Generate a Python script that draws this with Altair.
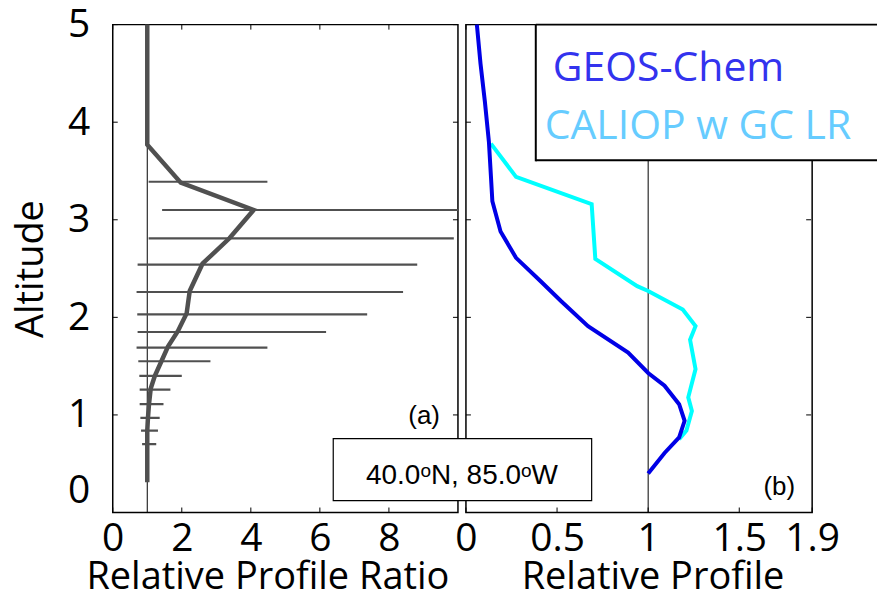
import altair as alt
import pandas as pd

# ---------------- data ----------------
# (a) relative profile ratio (gray line) vs altitude
ratio_alt = [5.0, 3.77, 3.38, 3.10, 2.81, 2.55, 2.27, 2.04, 1.86, 1.70, 1.55, 1.40, 1.27, 1.11, 0.97, 0.84, 0.70, 0.31]
ratio_val = [1.0, 1.0, 1.97, 4.08, 3.38, 2.60, 2.23, 2.14, 1.89, 1.60, 1.41, 1.22, 1.10, 1.05, 1.02, 1.0, 1.0, 1.0]

# (a) horizontal error bars
err_alt = [3.39, 3.10, 2.81, 2.54, 2.26, 2.03, 1.85, 1.69, 1.55, 1.40, 1.26, 1.11, 0.97, 0.84, 0.70]
err_lo = [1.04, 1.43, 1.04, 0.72, 0.69, 0.71, 0.72, 0.69, 0.74, 0.77, 0.78, 0.78, 0.80, 0.82, 0.85]
err_hi = [4.48, 10.6, 9.88, 8.82, 8.41, 7.37, 6.18, 4.48, 2.83, 2.00, 1.67, 1.47, 1.36, 1.31, 1.26]

# (b) GEOS-Chem relative profile
gc_alt = [5.0, 4.6, 4.21, 3.80, 3.45, 3.19, 2.88, 2.61, 2.37, 2.17, 1.91, 1.64, 1.43, 1.30, 1.11, 0.94, 0.77, 0.61, 0.40]
gc_val = [0.06, 0.08, 0.104, 0.126, 0.137, 0.145, 0.19, 0.275, 0.41, 0.52, 0.67, 0.89, 1.0, 1.09, 1.17, 1.2, 1.17, 1.09, 1.0]

# (b) CALIOP w GC LR relative profile
cal_alt = [3.78, 3.44, 3.16, 2.60, 2.32, 2.27, 2.08, 1.91, 1.77, 1.47, 1.18, 1.04, 0.84, 0.75]
cal_val = [0.137, 0.275, 0.69, 0.71, 0.94, 1.0, 1.19, 1.26, 1.23, 1.26, 1.22, 1.24, 1.21, 1.17]

left_xticks = [0, 2, 4, 6, 8]
right_xticks = [0, 0.5, 1, 1.5, 1.9]
yticks = [0, 1, 2, 3, 4, 5]
ref_line = [1.0]

legend_labels = ["GEOS-Chem", "CALIOP w GC LR"]
location_label = ["40.0ᵒN, 85.0ᵒW"]

W, H = 346, 489
TL = 5  # inward tick length
FONT = "Open Sans"

ratio_df = pd.DataFrame({"alt": ratio_alt, "val": ratio_val})
err_df = pd.DataFrame({"alt": err_alt, "lo": err_lo, "hi": err_hi})
gc_df = pd.DataFrame({"alt": gc_alt, "val": gc_val})
cal_df = pd.DataFrame({"alt": cal_alt, "val": cal_val})

# ---------------- scales / axes ----------------
sy = alt.Scale(domain=[0, 5], nice=False, zero=False)
sxL = alt.Scale(domain=[0, 10], nice=False, zero=False)
sxR = alt.Scale(domain=[0, 1.9], nice=False, zero=False)

yaxis = alt.Axis(values=yticks, format="d", labelPadding=23, labelBaseline="middle",
                 labelOffset={"condition": {"test": "datum.value == 0", "value": -22}, "value": 0},
                 title="Altitude", titleX=-70, titleY=H / 2, titleAngle=270,
                 titleBaseline="alphabetic", titleAlign="center")
axL = alt.Axis(values=left_xticks, format="d", labelPadding=38, labelBaseline="alphabetic",
               title="Relative Profile Ratio", titleX=155, titleY=76,
               titleBaseline="alphabetic", titleAlign="center")
axR = alt.Axis(values=right_xticks, format="~g", labelPadding=38, labelBaseline="alphabetic",
               title="Relative Profile", titleX=187, titleY=76,
               titleBaseline="alphabetic", titleAlign="center")


def YL(field):
    return alt.Y(field, type="quantitative", scale=sy, axis=yaxis)


def YR(field):
    return alt.Y(field, type="quantitative", scale=sy, axis=None)


def XL(field):
    return alt.X(field, type="quantitative", scale=sxL, axis=axL)


def XR(field):
    return alt.X(field, type="quantitative", scale=sxR, axis=axR)


def frame_ticks(xvals, X, Y):
    xt = pd.DataFrame({"t": xvals})
    yt = pd.DataFrame({"t": yticks})
    return [
        alt.Chart(xt).mark_rule(color="black", strokeWidth=1).encode(x=X("t"), y=alt.value(H), y2=alt.value(H - TL)),
        alt.Chart(xt).mark_rule(color="black", strokeWidth=1).encode(x=X("t"), y=alt.value(0), y2=alt.value(TL)),
        alt.Chart(yt).mark_rule(color="black", strokeWidth=1).encode(y=Y("t"), x=alt.value(0), x2=alt.value(TL)),
        alt.Chart(yt).mark_rule(color="black", strokeWidth=1).encode(y=Y("t"), x=alt.value(W - TL), x2=alt.value(W)),
    ]


GRAY = "#505050"

# ---------------- left panel ----------------
refL = alt.Chart(pd.DataFrame({"v": ref_line})).mark_rule(color="black", strokeWidth=1).encode(
    x=XL("v"), y=alt.value(0), y2=alt.value(H))
errs = alt.Chart(err_df).mark_rule(color=GRAY, strokeWidth=2.2, clip=True).encode(
    x=XL("lo"), x2="hi:Q", y=YL("alt"))
ratio_line = alt.Chart(ratio_df).mark_line(color=GRAY, strokeWidth=4.5).encode(
    x=XL("val"), y=YL("alt"), order=alt.Order("alt:Q"))
label_a = alt.Chart(pd.DataFrame({"t": ["(a)"]})).mark_text(
    font="Liberation Sans", fontSize=26, align="right", baseline="alphabetic", color="black").encode(
    x=alt.value(328), y=alt.value(400), text="t:N")

left = alt.layer(refL, errs, ratio_line, *frame_ticks(left_xticks, XL, YL), label_a).properties(width=W, height=H)

# ---------------- right panel ----------------
refR = alt.Chart(pd.DataFrame({"v": ref_line})).mark_rule(color="black", strokeWidth=1).encode(
    x=XR("v"), y=alt.value(0), y2=alt.value(H))
cal_line = alt.Chart(cal_df).mark_line(color="#00ffff", strokeWidth=4).encode(
    x=XR("val"), y=YR("alt"), order=alt.Order("alt:Q"))
gc_line = alt.Chart(gc_df).mark_line(color="#0000e6", strokeWidth=4).encode(
    x=XR("val"), y=YR("alt"), order=alt.Order("alt:Q"))

one = pd.DataFrame({"k": [0]})
LB_X0, LB_X1, LB_Y1 = 70, 412, 136
leg_fill = alt.Chart(one).mark_rect(fill="white", strokeWidth=0).encode(
    x=alt.value(LB_X0), x2=alt.value(LB_X1), y=alt.value(0), y2=alt.value(LB_Y1))
leg_left = alt.Chart(one).mark_rule(color="black", strokeWidth=2).encode(
    x=alt.value(LB_X0), y=alt.value(0), y2=alt.value(LB_Y1 + 1))
leg_bottom = alt.Chart(one).mark_rule(color="black", strokeWidth=2).encode(
    y=alt.value(LB_Y1), x=alt.value(LB_X0), x2=alt.value(LB_X1))
leg_top = alt.Chart(one).mark_rule(color="black", strokeWidth=2).encode(
    y=alt.value(0), x=alt.value(LB_X0), x2=alt.value(LB_X1))
leg_gc = alt.Chart(pd.DataFrame({"t": [legend_labels[0]]})).mark_text(
    font=FONT, fontSize=41, align="left", baseline="alphabetic", color="#3333ee").encode(
    x=alt.value(87), y=alt.value(57), text="t:N")
leg_cal = alt.Chart(pd.DataFrame({"t": [legend_labels[1]]})).mark_text(
    font=FONT, fontSize=41, align="left", baseline="alphabetic", color="#66ccff").encode(
    x=alt.value(79), y=alt.value(115), text="t:N")

loc_box = alt.Chart(one).mark_rect(fill="white", stroke="black", strokeWidth=1.2).encode(
    x=alt.value(-133), x2=alt.value(126), y=alt.value(415), y2=alt.value(477))
loc_text = alt.Chart(pd.DataFrame({"t": location_label})).mark_text(
    font="Liberation Sans", fontSize=28, align="center", baseline="alphabetic", color="black").encode(
    x=alt.value(-4), y=alt.value(460), text="t:N")
label_b = alt.Chart(pd.DataFrame({"t": ["(b)"]})).mark_text(
    font="Liberation Sans", fontSize=26, align="right", baseline="alphabetic", color="black").encode(
    x=alt.value(330), y=alt.value(471), text="t:N")

right = alt.layer(refR, cal_line, gc_line, *frame_ticks(right_xticks, XR, YR),
                  leg_fill, leg_left, leg_bottom, leg_top, leg_gc, leg_cal,
                  loc_box, loc_text, label_b).properties(width=W + 1, height=H)

chart = alt.hconcat(left, right, spacing=8, bounds="flush").properties(
    padding={"left": 12, "top": 4, "right": 0, "bottom": 0}, background="white"
).configure_view(stroke="black", strokeWidth=1.5).configure_axis(
    labelFont=FONT, titleFont=FONT, labelFontSize=39, titleFontSize=38,
    labelColor="black", titleColor="black", titleFontWeight="normal",
    grid=False, domain=False, ticks=False, tickSize=0, labelOverlap=False, labelFlush=False,
)

chart.save("out.html", embed_options={"renderer": "svg", "actions": False})
